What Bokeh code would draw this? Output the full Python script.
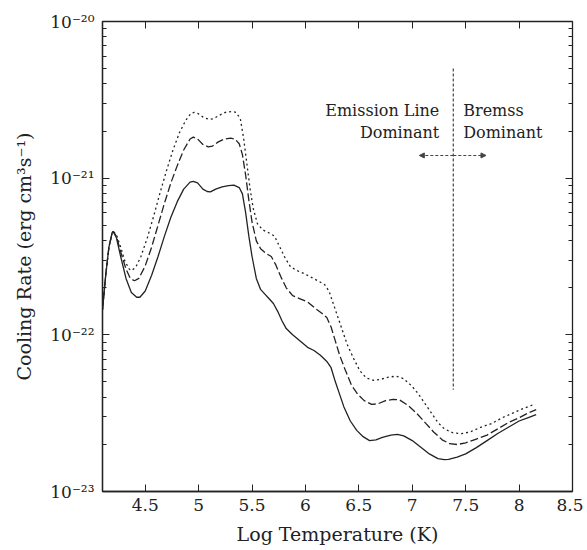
from bokeh.plotting import figure
from bokeh.models import (Range1d, FixedTicker, CustomJSTickFormatter, LinearAxis, LogAxis,
                          Label, Arrow, NormalHead, ColumnDataSource)
from bokeh.embed import file_html
from bokeh.resources import INLINE

# ---- data (log10 of cooling rate vs log temperature) ----
temp_solid = [4.10, 4.13, 4.16, 4.19, 4.20, 4.23, 4.27, 4.32, 4.37, 4.42, 4.45, 4.50, 4.56, 4.62,
              4.68, 4.74, 4.80, 4.86, 4.92, 4.95, 4.99, 5.04, 5.08, 5.11, 5.16, 5.22, 5.28, 5.33,
              5.38, 5.41, 5.44, 5.47, 5.50, 5.54, 5.58, 5.62, 5.66, 5.70, 5.74, 5.78, 5.82, 5.88,
              5.95, 6.02, 6.08, 6.14, 6.20, 6.24, 6.28, 6.32, 6.36, 6.42, 6.48, 6.54, 6.60, 6.66,
              6.72, 6.80, 6.86, 6.92, 7.00, 7.08, 7.16, 7.24, 7.30, 7.34, 7.42, 7.50, 7.60, 7.70,
              7.80, 7.90, 8.00, 8.08, 8.16]
lograte_solid = [-21.84, -21.62, -21.44, -21.35, -21.34, -21.38, -21.50, -21.64, -21.73, -21.76,
                 -21.76, -21.72, -21.62, -21.50, -21.37, -21.25, -21.15, -21.07, -21.025, -21.02,
                 -21.03, -21.07, -21.085, -21.087, -21.07, -21.055, -21.047, -21.045, -21.06, -21.10,
                 -21.22, -21.37, -21.50, -21.64, -21.71, -21.74, -21.77, -21.80, -21.85, -21.91,
                 -21.96, -22.00, -22.04, -22.08, -22.10, -22.13, -22.17, -22.21, -22.30, -22.38,
                 -22.46, -22.55, -22.61, -22.65, -22.675, -22.67, -22.655, -22.64, -22.636, -22.645,
                 -22.675, -22.717, -22.76, -22.79, -22.797, -22.795, -22.78, -22.76, -22.72, -22.675,
                 -22.63, -22.59, -22.55, -22.53, -22.51]

temp_dashed = [4.10, 4.13, 4.16, 4.19, 4.20, 4.23, 4.27, 4.32, 4.36, 4.40, 4.44, 4.50, 4.56, 4.62,
               4.68, 4.74, 4.80, 4.86, 4.92, 4.95, 4.99, 5.04, 5.09, 5.13, 5.18, 5.24, 5.30, 5.34,
               5.38, 5.41, 5.44, 5.47, 5.50, 5.54, 5.58, 5.63, 5.68, 5.72, 5.77, 5.82, 5.88, 5.95,
               6.02, 6.09, 6.15, 6.20, 6.24, 6.28, 6.32, 6.37, 6.43, 6.49, 6.55, 6.62, 6.68, 6.75,
               6.82, 6.88, 6.96, 7.04, 7.12, 7.20, 7.28, 7.35, 7.42, 7.50, 7.60, 7.70, 7.80, 7.90,
               8.00, 8.08, 8.16]
lograte_dashed = [-21.84, -21.62, -21.44, -21.35, -21.34, -21.37, -21.47, -21.58, -21.64, -21.655,
                  -21.64, -21.56, -21.44, -21.30, -21.16, -21.03, -20.92, -20.82, -20.75, -20.738,
                  -20.75, -20.785, -20.80, -20.795, -20.77, -20.75, -20.745, -20.75, -20.78, -20.85,
                  -20.98, -21.14, -21.28, -21.40, -21.45, -21.48, -21.50, -21.55, -21.63, -21.70,
                  -21.75, -21.77, -21.79, -21.83, -21.86, -21.89, -21.95, -22.04, -22.13, -22.22,
                  -22.32, -22.38, -22.42, -22.444, -22.44, -22.42, -22.412, -22.415, -22.45, -22.50,
                  -22.56, -22.62, -22.67, -22.695, -22.70, -22.69, -22.665, -22.64, -22.60, -22.56,
                  -22.53, -22.50, -22.478]

temp_dotted = [4.10, 4.13, 4.16, 4.19, 4.20, 4.23, 4.27, 4.31, 4.35, 4.37, 4.41, 4.46, 4.52, 4.58,
               4.64, 4.70, 4.76, 4.82, 4.88, 4.93, 4.96, 5.00, 5.05, 5.10, 5.14, 5.19, 5.25, 5.31,
               5.35, 5.39, 5.42, 5.45, 5.48, 5.51, 5.55, 5.60, 5.66, 5.71, 5.76, 5.81, 5.86, 5.92,
               5.99, 6.06, 6.13, 6.18, 6.22, 6.26, 6.30, 6.34, 6.39, 6.45, 6.51, 6.57, 6.64, 6.70,
               6.78, 6.85, 6.92, 7.00, 7.06, 7.12, 7.18, 7.24, 7.30, 7.38, 7.46, 7.54, 7.64, 7.74,
               7.84, 7.94, 8.04, 8.14]
lograte_dotted = [-21.84, -21.62, -21.44, -21.35, -21.34, -21.36, -21.44, -21.53, -21.58, -21.59,
                  -21.57, -21.50, -21.38, -21.24, -21.09, -20.95, -20.82, -20.71, -20.63, -20.585,
                  -20.58, -20.59, -20.615, -20.625, -20.62, -20.60, -20.58, -20.574, -20.58, -20.62,
                  -20.74, -20.90, -21.06, -21.19, -21.29, -21.33, -21.35, -21.37, -21.44, -21.51,
                  -21.565, -21.59, -21.61, -21.635, -21.66, -21.68, -21.72, -21.80, -21.88, -21.96,
                  -22.06, -22.15, -22.23, -22.275, -22.291, -22.285, -22.27, -22.264, -22.28, -22.33,
                  -22.38, -22.44, -22.50, -22.56, -22.60, -22.625, -22.631, -22.62, -22.59, -22.567,
                  -22.53, -22.50, -22.47, -22.444]

x_ticks = [4.5, 5.0, 5.5, 6.0, 6.5, 7.0, 7.5, 8.0, 8.5]
x_tick_labels = ["4.5", "5", "5.5", "6", "6.5", "7", "7.5", "8", "8.5"]
y_ticks = [1e-23, 1e-22, 1e-21, 1e-20]
y_tick_labels = ["10\u207b\u00b2\u00b3", "10\u207b\u00b2\u00b2", "10\u207b\u00b2\u00b9", "10\u207b\u00b2\u2070"]
y_minor_ticks = [m * d for d in (1e-23, 1e-22, 1e-21) for m in range(2, 10)]

x_range = (4.1, 8.5)
y_range = (1e-23, 1e-20)

# annotation (divider between emission-line and bremsstrahlung dominated regimes)
divider_temp = 7.384
divider_log_top = -20.30
divider_log_bottom = -22.35
arrow_log = -20.855
arrow_left_temp = 7.066
arrow_right_temp = 7.69
text_left_temp = 7.253
text_right_temp = 7.477
text_line1_log = -20.568
text_line2_log = -20.706

FONT = "DejaVu Serif"
INK = "#222222"

p = figure(width=583, height=548, output_backend="svg", toolbar_location=None,
           y_axis_type="log", x_range=Range1d(*x_range), y_range=Range1d(*y_range),
           min_border_left=102, min_border_right=11, min_border_top=21, min_border_bottom=57)
p.background_fill_color = "white"
p.border_fill_color = "white"
p.grid.visible = False
p.outline_line_color = INK
p.outline_line_width = 1.3

xfmt = CustomJSTickFormatter(args=dict(tvals=x_ticks, tlabels=x_tick_labels), code="""
let b = 0;
for (let i = 0; i < tvals.length; i++) {
  if (Math.abs(tvals[i] - tick) < Math.abs(tvals[b] - tick)) b = i;
}
return tlabels[b];
""")
yfmt = CustomJSTickFormatter(args=dict(tvals=y_ticks, tlabels=y_tick_labels), code="""
let b = 0;
const lt = Math.log10(tick);
for (let i = 0; i < tvals.length; i++) {
  if (Math.abs(Math.log10(tvals[i]) - lt) < Math.abs(Math.log10(tvals[b]) - lt)) b = i;
}
return tlabels[b];
""")
blank = CustomJSTickFormatter(code="return '';")

xt = FixedTicker(ticks=x_ticks)
yt = FixedTicker(ticks=y_ticks, minor_ticks=y_minor_ticks)

xa = p.xaxis[0]
xa.ticker = xt
xa.formatter = xfmt
xa.axis_label = "Log Temperature (K)"
ya = p.yaxis[0]
ya.ticker = yt
ya.formatter = yfmt
ya.axis_label = "Cooling Rate (erg cm\u00b3s\u207b\u00b9)"

for ax in (xa, ya):
    ax.axis_line_color = INK
    ax.axis_line_width = 1.3
    ax.major_tick_in = 7
    ax.major_tick_out = 0
    ax.minor_tick_in = 4
    ax.minor_tick_out = 0
    ax.major_tick_line_color = INK
    ax.minor_tick_line_color = INK
    ax.major_label_text_font = FONT
    ax.major_label_text_font_size = "17px"
    ax.major_label_text_color = INK
    ax.axis_label_text_font = FONT
    ax.axis_label_text_font_size = "19px"
    ax.axis_label_text_font_style = "normal"
    ax.axis_label_text_color = INK
xa.minor_tick_line_color = None
xa.major_label_standoff = 7
xa.axis_label_standoff = 9
ya.major_label_standoff = 8
ya.axis_label_standoff = 12

top = LinearAxis(ticker=xt, formatter=blank, major_label_text_font_size="1px",
                 major_label_standoff=0,
                 major_tick_in=7, major_tick_out=0, minor_tick_line_color=None,
                 axis_line_color=INK, major_tick_line_color=INK)
right = LogAxis(ticker=yt, formatter=blank, major_label_text_font_size="1px",
                major_label_standoff=0,
                major_tick_in=7, major_tick_out=0, minor_tick_in=4, minor_tick_out=0,
                axis_line_color=INK, major_tick_line_color=INK, minor_tick_line_color=INK)
p.add_layout(top, "above")
p.add_layout(right, "right")

def src(t, lr):
    return ColumnDataSource(dict(x=t, y=[10 ** v for v in lr]))

p.line("x", "y", source=src(temp_solid, lograte_solid), line_color=INK, line_width=1.3)
p.line("x", "y", source=src(temp_dashed, lograte_dashed), line_color=INK, line_width=1.3,
       line_dash="8 3")
p.line("x", "y", source=src(temp_dotted, lograte_dotted), line_color=INK, line_width=1.3,
       line_dash="2 3")

# divider line
p.line([divider_temp, divider_temp], [10 ** divider_log_top, 10 ** divider_log_bottom],
       line_color="#444444", line_width=1.2, line_dash="3 2")

for xe in (arrow_left_temp, arrow_right_temp):
    p.add_layout(Arrow(end=NormalHead(size=5, fill_color="#444444", line_color="#444444"),
                       x_start=divider_temp, y_start=10 ** arrow_log,
                       x_end=xe, y_end=10 ** arrow_log,
                       line_color="#444444", line_width=1.1, line_dash="3 2"))

for txt, xx, yy, al in [("Emission Line", text_left_temp, text_line1_log, "right"),
                        ("Dominant", text_left_temp, text_line2_log, "right"),
                        ("Bremss", text_right_temp, text_line1_log, "left"),
                        ("Dominant", text_right_temp, text_line2_log, "left")]:
    p.add_layout(Label(x=xx, y=10 ** yy, text=txt, text_align=al, text_baseline="alphabetic",
                       text_font=FONT, text_font_size="16px", text_color=INK))

open("out.html", "w").write(file_html(p, INLINE))
